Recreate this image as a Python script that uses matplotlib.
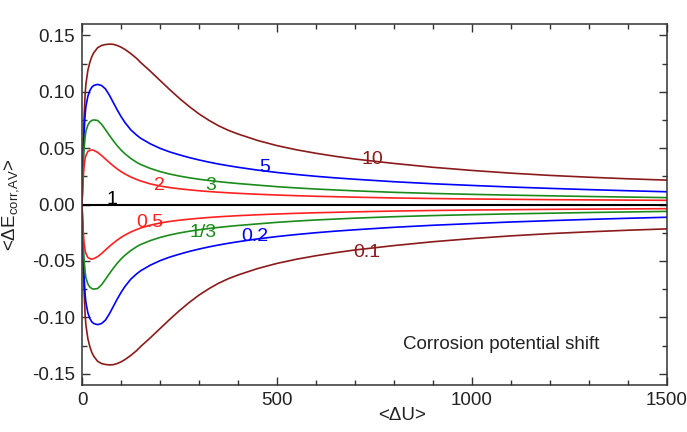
import numpy as np
import matplotlib
matplotlib.use('Agg')
import matplotlib.pyplot as plt
from matplotlib.ticker import MultipleLocator

plt.rcParams['font.family'] = ['Liberation Sans', 'DejaVu Sans']
plt.rcParams['mathtext.fontset'] = 'custom'
plt.rcParams['mathtext.rm'] = 'Liberation Sans'

# values (in units of 0.01)
du = [0, 2, 5, 8, 10, 15, 20, 25, 30, 40, 50, 60, 70, 80, 90, 100, 110, 125, 140,
      150, 175, 200, 225, 250, 275, 300, 325, 350, 375, 400, 450, 500, 550, 600,
      650, 700, 800, 900, 1000, 1100, 1200, 1300, 1400, 1500]

# ratio 10 (mirror: 0.1)
e10 = [0, 3.5, 7.5, 9.8, 10.7, 11.9, 12.6, 13.1, 13.45, 13.9, 14.1, 14.18, 14.22,
       14.2, 14.1, 13.95, 13.75, 13.38, 12.95, 12.6, 11.82, 11.0, 10.18, 9.4,
       8.68, 8.03, 7.47, 6.98, 6.58, 6.25, 5.68, 5.22, 4.85, 4.54, 4.27, 4.03,
       3.64, 3.3, 3.02, 2.78, 2.58, 2.42, 2.28, 2.16]
# ratio 5 (mirror: 0.2)
e5 = [0, 3.0, 6.2, 8.0, 8.7, 9.6, 10.1, 10.4, 10.55, 10.65, 10.55, 10.25, 9.7,
      9.05, 8.4, 7.8, 7.27, 6.62, 6.15, 5.88, 5.38, 4.98, 4.66, 4.4, 4.16, 3.95,
      3.76, 3.59, 3.44, 3.3, 3.05, 2.84, 2.66, 2.5, 2.36, 2.24, 2.02, 1.84, 1.69,
      1.55, 1.43, 1.32, 1.22, 1.13]
# ratio 3 (mirror: 1/3)
e3 = [0, 2.5, 4.8, 6.0, 6.5, 7.05, 7.32, 7.45, 7.5, 7.45, 7.12, 6.64, 6.14, 5.66,
      5.22, 4.83, 4.5, 4.08, 3.74, 3.55, 3.2, 2.92, 2.7, 2.52, 2.37, 2.24, 2.13,
      2.03, 1.94, 1.86, 1.72, 1.58, 1.47, 1.37, 1.29, 1.21, 1.08, 0.98, 0.9,
      0.83, 0.77, 0.71, 0.66, 0.61]
# ratio 2 (mirror: 0.5)
e2 = [0, 1.8, 3.3, 4.1, 4.35, 4.7, 4.8, 4.84, 4.8, 4.62, 4.35, 4.03, 3.72, 3.43,
      3.16, 2.92, 2.71, 2.44, 2.22, 2.09, 1.83, 1.64, 1.5, 1.39, 1.3, 1.22, 1.15,
      1.09, 1.04, 0.99, 0.91, 0.84, 0.78, 0.73, 0.69, 0.65, 0.58, 0.53, 0.49,
      0.46, 0.43, 0.41, 0.39, 0.37]
# ratio 1
e1 = [0] * len(du)

x = np.array(du)
upper = {'10': np.array(e10) / 100, '5': np.array(e5) / 100,
         '3': np.array(e3) / 100, '2': np.array(e2) / 100}

brown = '#8b1a1a'
blue = '#0000ff'
green = '#1a8c1a'
red = '#ff2020'
colors = {'10': brown, '5': blue, '3': green, '2': red}

fig = plt.figure(figsize=(6.87, 4.32), dpi=100)
ax = fig.add_axes([0.1194, 0.1088, 0.8515, 0.8356])

# upper branches and their mirror images (1/r gives the opposite shift)
for key, y in upper.items():
    ax.plot(x, y, color=colors[key], lw=1.2)
    ax.plot(x, -y, color=colors[key], lw=1.2)
ax.plot(x, e1, color='black', lw=1.5)

ax.set_xlim(0, 1500)
ax.set_ylim(-0.16, 0.16)
ax.xaxis.set_major_locator(MultipleLocator(500))
ax.xaxis.set_minor_locator(MultipleLocator(100))
ax.yaxis.set_minor_locator(MultipleLocator(0.025))
ax.set_yticks([-0.15, -0.10, -0.05, 0.00, 0.05, 0.10, 0.15])
ax.set_yticklabels(['-0.15', '-0.10', '-0.05', '0.00', '0.05', '0.10', '0.15'])
ax.tick_params(which='both', direction='in', top=True, right=True, labelsize=13.5,
               colors='#333333', labelcolor='#222222')
ax.tick_params(which='major', length=6, width=1, pad=5)
ax.tick_params(which='minor', length=3.5, width=1)
for s in ax.spines.values():
    s.set_color('#333333')
    s.set_linewidth(1.1)

ax.set_xlabel('<ΔU>', fontsize=13.5, color='#222222')
ax.xaxis.set_label_coords(0.547, -0.062)
ax.text(-0.12, 0.5, r'<ΔE$_{\rm corr{,}AV}$>', fontsize=13.5, color='#222222',
        rotation=90, ha='center', va='center', transform=ax.transAxes)

fs = 14
ax.text(745, 0.0395, '10', color=brown, fontsize=fs, ha='center', va='center')
ax.text(468, 0.033, '5', color=blue, fontsize=fs, ha='center', va='center')
ax.text(331, 0.017, '3', color=green, fontsize=fs, ha='center', va='center')
ax.text(199, 0.017, '2', color=red, fontsize=fs, ha='center', va='center')
ax.text(77, 0.004, '1', color='black', fontsize=fs, ha='center', va='center')
ax.text(174, -0.016, '0.5', color=red, fontsize=fs, ha='center', va='center')
ax.text(310, -0.025, '1/3', color=green, fontsize=fs, ha='center', va='center')
ax.text(444, -0.0285, '0.2', color=blue, fontsize=fs, ha='center', va='center')
ax.text(730, -0.0425, '0.1', color=brown, fontsize=fs, ha='center', va='center')
ax.text(1076, -0.124, 'Corrosion potential shift', color='#222222', fontsize=13.5,
        ha='center', va='center')

fig.savefig('out.png', dpi=100)
